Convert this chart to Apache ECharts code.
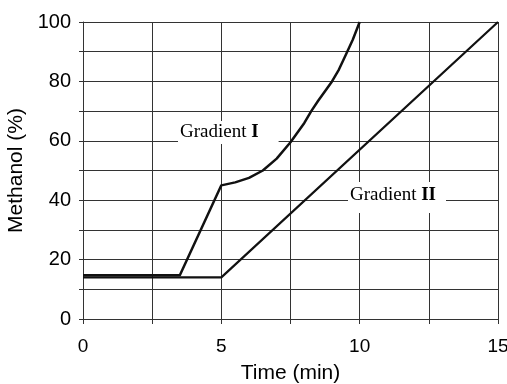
<!DOCTYPE html>
<html>
<head>
<meta charset="utf-8">
<script src="https://cdn.jsdelivr.net/npm/echarts@6/dist/echarts.min.js"></script>
<style>
  html, body { margin: 0; padding: 0; background: #fff; }
  #main { width: 507px; height: 384px; }
</style>
</head>
<body>
<div id="main"></div>
<script>
// Gradient I: hold, ramp, then curved rise to 100 %
const gradient1 = [
  [0, 14.7], [3.5, 14.7], [5, 45], [5.5, 46], [6, 47.5], [6.5, 50], [7, 54],
  [7.5, 59.5], [8, 66], [8.25, 70], [8.5, 73.5], [9, 80], [9.25, 84],
  [9.5, 89], [9.75, 94], [10, 100]
];
// Gradient II: hold, then linear
const gradient2 = [[0, 14], [5, 14], [15, 100]];

const xTicks = [0, 5, 10, 15];
const yTicks = [0, 20, 40, 60, 80, 100];

const chart = echarts.init(document.getElementById('main'));

const gridColor = '#333';
const serif = '"Liberation Serif", "DejaVu Serif", serif';
const sans = '"Liberation Sans", Arial, sans-serif';

chart.setOption({
  animation: false,
  backgroundColor: '#fff',
  grid: { left: 83, right: 9, top: 22, bottom: 65, outerBoundsMode: 'none', containLabel: false },
  xAxis: {
    type: 'value',
    min: 0, max: 15, interval: 2.5,
    name: 'Time (min)',
    nameLocation: 'middle',
    nameGap: 44,
    nameTextStyle: { color: '#000', fontSize: 21, fontFamily: sans },
    axisLine: { show: true, lineStyle: { color: gridColor, width: 1 } },
    axisTick: { show: true, inside: false, length: 5, lineStyle: { color: gridColor } },
    axisLabel: {
      interval: 1, color: '#000', fontSize: 19, fontFamily: sans, margin: 18,
      formatter: v => xTicks.includes(v) ? String(v) : ''
    },
    splitLine: { show: true, lineStyle: { color: gridColor, width: 1 } }
  },
  yAxis: {
    type: 'value',
    min: 0, max: 100, interval: 10,
    name: 'Methanol (%)',
    nameLocation: 'middle',
    nameGap: 50,
    nameRotate: 90,
    nameTextStyle: { color: '#000', fontSize: 21, fontFamily: sans },
    axisLine: { show: true, lineStyle: { color: gridColor, width: 1 } },
    axisTick: { show: true, inside: false, length: 4, lineStyle: { color: gridColor } },
    axisLabel: {
      interval: 1, color: '#000', fontSize: 20, fontFamily: sans, margin: 12,
      formatter: v => yTicks.includes(v) ? String(v) : ''
    },
    splitLine: { show: true, lineStyle: { color: gridColor, width: 1 } }
  },
  graphic: [
    {
      type: 'text', left: 178, top: 121, z: 10,
      style: {
        text: '{a|Gradient }{b|I}',
        backgroundColor: '#fff',
        padding: [2, 20, 2, 2],
        rich: {
          a: { fontFamily: serif, fontSize: 19, fill: '#000' },
          b: { fontFamily: serif, fontSize: 19, fontWeight: 'bold', fill: '#000' }
        }
      }
    },
    {
      type: 'text', left: 348, top: 182, z: 10,
      style: {
        text: '{a|Gradient }{b|II}',
        backgroundColor: '#fff',
        padding: [4, 10, 8, 2],
        rich: {
          a: { fontFamily: serif, fontSize: 19, fill: '#000' },
          b: { fontFamily: serif, fontSize: 19, fontWeight: 'bold', fill: '#000' }
        }
      }
    }
  ],
  series: [
    {
      name: 'Gradient I',
      type: 'line',
      data: gradient1,
      showSymbol: false,
      z: 5,
      lineStyle: { color: '#111', width: 2.5, join: 'round' }
    },
    {
      name: 'Gradient II',
      type: 'line',
      data: gradient2,
      showSymbol: false,
      z: 5,
      lineStyle: { color: '#111', width: 2.2 }
    }
  ]
});
</script>
</body>
</html>
